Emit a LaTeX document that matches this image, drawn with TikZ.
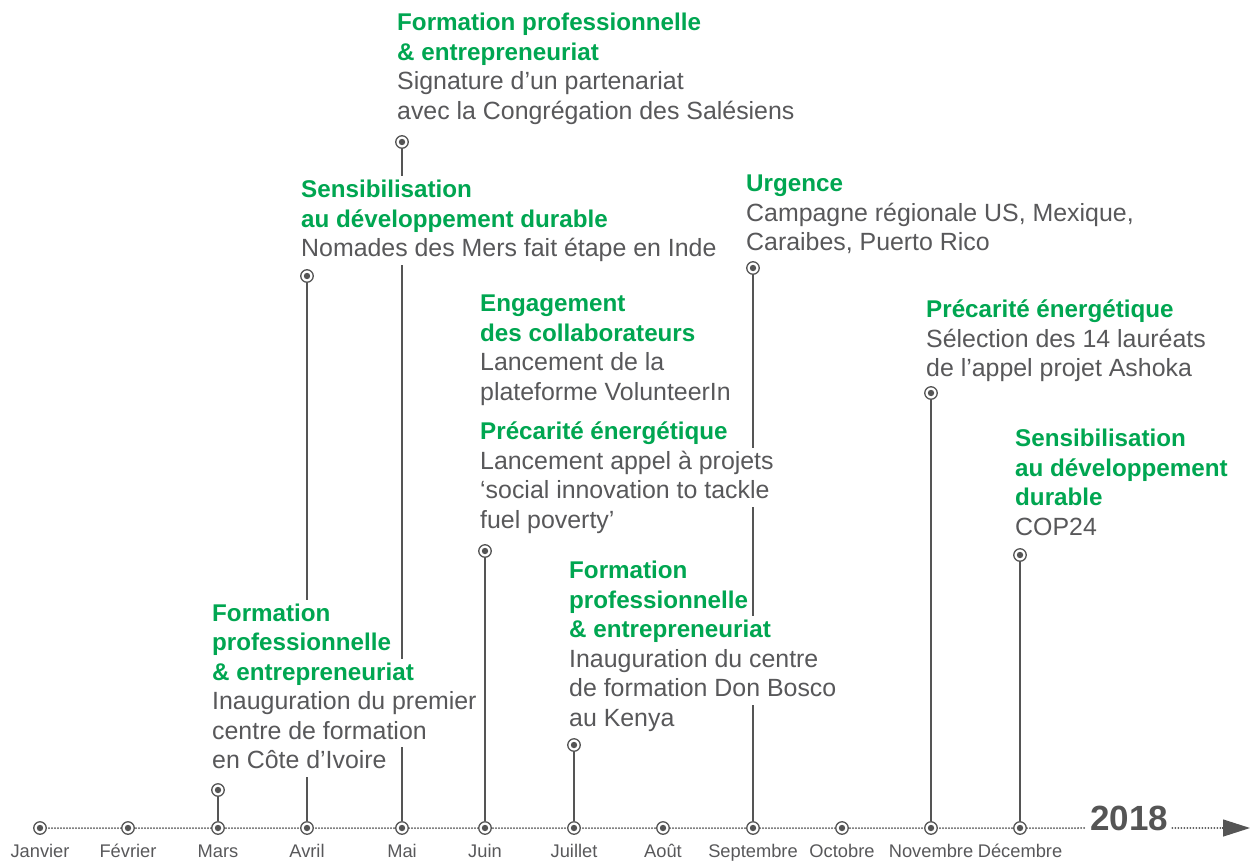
\documentclass[tikz,border=0pt]{standalone}
\usepackage{fontspec}
\setmainfont{Liberation Sans}
\usetikzlibrary{arrows.meta,backgrounds}
\definecolor{grn}{RGB}{0,166,81}
\definecolor{txtg}{RGB}{88,88,90}
\definecolor{lng}{RGB}{85,85,85}
% one text line on a white band (hides the stems behind it)
\newcommand\wl[1]{{\setlength{\fboxsep}{0pt}\colorbox{white}{\rule[-8pt]{0pt}{29.5pt}#1}}}
\newcommand\evhead[1]{\wl{\textcolor{grn}{\fontsize{24.2}{29.5}\selectfont\bfseries #1}}}
\begin{document}
\begin{tikzpicture}[x=1pt,y=-1pt,
  mk/.style={circle, draw=lng, fill=white, line width=1.3pt, minimum size=12.5pt, inner sep=0pt,
    path picture={\fill[lng] (path picture bounding box.center) circle (3.2pt);}},
  vline/.style={draw=lng, line width=1.3pt},
  axisdots/.style={draw=lng, line width=2pt, line cap=round, dash pattern=on 0pt off 3pt},
  blk/.style={anchor=north west, inner sep=0pt, align=left, text=txtg,
    font=\fontsize{24.9}{29.5}\selectfont},
  mlab/.style={anchor=base, inner sep=0pt, text=txtg, font=\fontsize{18.3}{18.3}\selectfont}]
\useasboundingbox (0,0) rectangle (1250,860);

% axis markers and month labels
\foreach \n/\x/\lab in {Jan/40/Janvier, Fev/128/Février, Mar/218/Mars, Avr/307/Avril,
  Mai/402/Mai, Jun/485/Juin, Jul/574/Juillet, Aou/663/Août, Sep/753/Septembre,
  Oct/842/Octobre, Nov/931/Novembre, Dec/1020/Décembre}{
  \node[mk] (a\n) at (\x,828) {};
  \node[mlab] (l\n) at (\x,857) {\lab};
}
\node[anchor=base west, inner xsep=4pt, inner ysep=0pt, text=lng,
  font=\bfseries\fontsize{35}{35}\selectfont] (yr) at (1086,830) {2018};
\coordinate (tb) at (1222,828);
\coordinate (tip) at (1250,828);

% event markers
\node[mk] (eMar) at (218,790) {};
\node[mk] (eAvr) at (307,276) {};
\node[mk] (eMai) at (402,142) {};
\node[mk] (eJun) at (485,551) {};
\node[mk] (eJul) at (574,745) {};
\node[mk] (eSep) at (753,268) {};
\node[mk] (eNov) at (931,393) {};
\node[mk] (eDec) at (1020,555) {};

% event texts (y = first baseline - 21.5)
\node[blk] (tMai) at (397,9) {\evhead{Formation professionnelle}\\\evhead{\& entrepreneuriat}\\\wl{Signature d’un partenariat}\\\wl{avec la Congrégation des Salésiens}};
\node[blk] (tAvr) at (301,176) {\evhead{Sensibilisation}\\\evhead{au développement durable}\\\wl{Nomades des Mers fait étape en Inde}};
\node[blk] (tSep) at (746,170) {\evhead{Urgence}\\\wl{Campagne régionale US, Mexique,}\\\wl{Caraibes, Puerto Rico}};
\node[blk] (tEng) at (480,290) {\evhead{Engagement}\\\evhead{des collaborateurs}\\\wl{Lancement de la}\\\wl{plateforme VolunteerIn}};
\node[blk] (tNov) at (926,296) {\evhead{Précarité énergétique}\\\wl{Sélection des 14 lauréats}\\\wl{de l’appel projet Ashoka}};
\node[blk] (tJun) at (480,418) {\evhead{Précarité énergétique}\\\wl{Lancement appel à projets}\\\wl{‘social innovation to tackle}\\\wl{fuel poverty’}};
\node[blk] (tDec) at (1015,425) {\evhead{Sensibilisation}\\\evhead{au développement}\\\evhead{durable}\\\wl{COP24}};
\node[blk] (tJul) at (569,557) {\evhead{Formation}\\\evhead{professionnelle}\\\evhead{\& entrepreneuriat}\\\wl{Inauguration du centre}\\\wl{de formation Don Bosco}\\\wl{au Kenya}};
\node[blk] (tMar) at (212,599.5) {\evhead{Formation}\\\evhead{professionnelle}\\\evhead{\& entrepreneuriat}\\\wl{Inauguration du premier}\\\wl{centre de formation}\\\wl{en Côte d’Ivoire}};

\begin{scope}[on background layer]
  \draw[axisdots] (aJan.center) -- (yr.west |- aJan.center);
  \draw[axisdots] (yr.east |- aJan.center) -- (tb);
  \draw[lng, line width=1.2pt, -{Triangle[length=27pt,width=17pt]}] (tb) -- (tip);
  \draw[vline] (eMar) -- (aMar);
  \draw[vline] (eAvr) -- (aAvr);
  \draw[vline] (eMai) -- (aMai);
  \draw[vline] (eJun) -- (aJun);
  \draw[vline] (eJul) -- (aJul);
  \draw[vline] (eSep) -- (aSep);
  \draw[vline] (eNov) -- (aNov);
  \draw[vline] (eDec) -- (aDec);
\end{scope}
\end{tikzpicture}
\end{document}
